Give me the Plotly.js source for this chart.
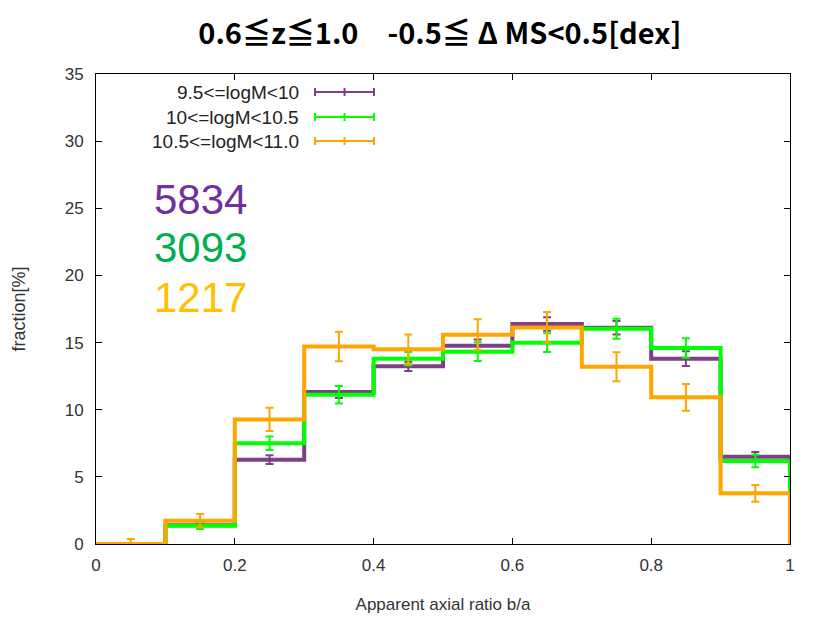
<!DOCTYPE html>
<html>
<head>
<meta charset="utf-8">
<script src="https://cdn.plot.ly/plotly-3.0.1.min.js"></script>
<style>html,body{margin:0;padding:0;background:#fff;}#chart{width:830px;height:623px;}</style>
</head>
<body>
<div id="chart"></div>
<script>
// bin edges and centres (apparent axial ratio b/a)
const binEdges = [0, 0.1, 0.2, 0.3, 0.4, 0.5, 0.6, 0.7, 0.8, 0.9, 1.0];
const binCenters = [0.05, 0.15, 0.25, 0.35, 0.45, 0.55, 0.65, 0.75, 0.85, 0.95];

const seriesNames = ["9.5<=logM<10", "10<=logM<10.5", "10.5<=logM<11.0"];
const seriesColors = ["#7E3F86", "#00FF00", "#FFA500"];
const countLabels = ["5834", "3093", "1217"];
const countColors = ["#7030A0", "#00B050", "#FFC000"];

// fraction [%]
const fracLow  = [0, 1.40, 6.28, 11.32, 13.23, 14.77, 16.38, 16.10, 13.80, 6.50];
const fracMid  = [0, 1.36, 7.50, 11.12, 13.80, 14.32, 14.99, 16.03, 14.60, 6.18];
const fracHigh = [0, 1.74, 9.28, 14.70, 14.50, 15.59, 16.13, 13.20, 10.92, 3.77];

// errors [%]
const errLow  = [0, 0.17, 0.33, 0.45, 0.35, 0.45, 0.50, 0.50, 0.55, 0.35];
const errMid  = [0, 0.25, 0.50, 0.65, 0.50, 0.70, 0.70, 0.75, 0.73, 0.46];
const errHigh = [0.37, 0.50, 0.87, 1.10, 1.10, 1.15, 1.15, 1.08, 1.00, 0.62];

const fracs = [fracLow, fracMid, fracHigh];
const errs = [errLow, errMid, errHigh];

const traces = [];
for (let s = 0; s < 3; s++) {
  const v = fracs[s];
  const xs = binEdges.slice(0, 10).concat([binEdges[10], binEdges[10]]);
  const ys = v.concat([v[9], 0]);
  traces.push({
    x: xs, y: ys, type: 'scatter', mode: 'lines',
    line: {shape: 'hv', color: seriesColors[s], width: 4},
    showlegend: false, hoverinfo: 'skip', cliponaxis: false
  });
  traces.push({
    x: binCenters, y: v, type: 'scatter', mode: 'markers',
    marker: {size: 1, color: 'rgba(0,0,0,0)'},
    error_y: {type: 'data', array: errs[s], visible: true, color: seriesColors[s], thickness: 2, width: 4},
    showlegend: false, cliponaxis: false
  });
}

// manual legend in gnuplot style
const shapes = [];
const annotations = [];
const legY = [0.9617, 0.9085, 0.8574];
const lx0 = 0.3156, lx1 = 0.4006, lxm = 0.3581, cap = 0.0085;
for (let s = 0; s < 3; s++) {
  const c = seriesColors[s], y = legY[s];
  shapes.push({type:'line', xref:'paper', yref:'paper', x0:lx0, x1:lx1, y0:y, y1:y, line:{color:c, width:2}});
  [lx0, lxm, lx1].forEach(xx => shapes.push({type:'line', xref:'paper', yref:'paper', x0:xx, x1:xx, y0:y-cap, y1:y+cap, line:{color:c, width:2}}));
  annotations.push({xref:'paper', yref:'paper', x:0.295, y:y, xanchor:'right', yanchor:'middle', text:seriesNames[s], showarrow:false,
    font:{family:'Liberation Sans, Arial', size:19, color:'#222'}});
}
const numY = [0.734, 0.630, 0.5255];
for (let s = 0; s < 3; s++) {
  annotations.push({xref:'paper', yref:'paper', x:0.151, y:numY[s], xanchor:'center', yanchor:'middle', text:countLabels[s], showarrow:false,
    font:{family:'Liberation Sans, Arial', size:42, color:countColors[s]}});
}

const tickFont = {family:'Liberation Sans, Arial', size:17, color:'#333'};
const layout = {
  width: 830, height: 623,
  margin: {l: 96, r: 40, t: 74, b: 79},
  paper_bgcolor: '#fff', plot_bgcolor: '#fff',
  title: {text: '<b>0.6≦z≦1.0　-0.5≦ Δ MS<0.5[dex]</b>', x: 0.53, xanchor:'center', y: 0.945, yanchor:'middle',
    font: {family: 'Noto Sans CJK JP, Noto Sans', size: 29, color: '#000'}},
  xaxis: {range: [0, 1], tickvals: [0, 0.2, 0.4, 0.6, 0.8, 1], ticktext: ['0','0.2','0.4','0.6','0.8','1'],
    ticks: 'inside', ticklen: 6, tickcolor: '#000', mirror: 'ticks', showline: true, linecolor: '#000', linewidth: 1,
    showgrid: false, zeroline: false, tickfont: tickFont, ticklabelstandoff: 6,
    title: {text: 'Apparent axial ratio b/a', font: {family:'Liberation Sans, Arial', size: 17, color:'#333'}, standoff: 23}},
  yaxis: {range: [0, 35], tickvals: [0,5,10,15,20,25,30,35],
    ticks: 'inside', ticklen: 6, tickcolor: '#000', mirror: 'ticks', showline: true, linecolor: '#000', linewidth: 1,
    showgrid: false, zeroline: false, tickfont: tickFont, ticklabelstandoff: 8,
    title: {text: 'fraction[%]', font: {family:'Liberation Sans, Arial', size: 18, color:'#333'}, standoff: 34}},
  shapes: shapes,
  annotations: annotations
};

Plotly.newPlot('chart', traces, layout, {displayModeBar: false, staticPlot: true});
</script>
</body>
</html>
